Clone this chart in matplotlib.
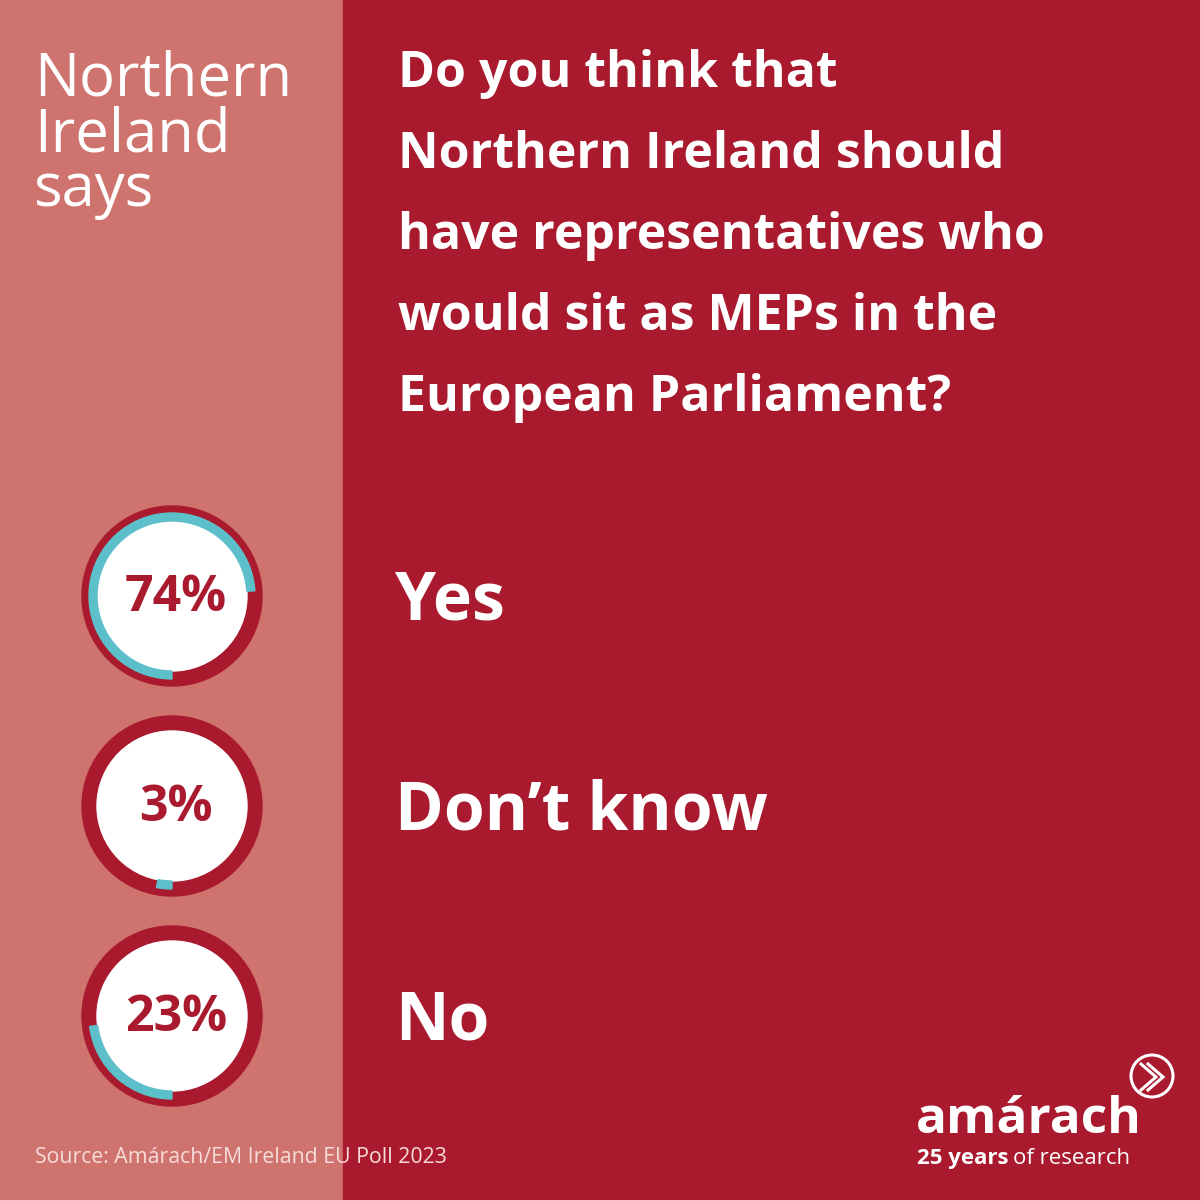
import matplotlib
matplotlib.use("Agg")
import matplotlib.pyplot as plt
from matplotlib.patches import Rectangle, Wedge, Circle

# poll answers, top to bottom
answers = ["Yes", "Don\u2019t know", "No"]
shares = [74, 3, 23]
pct_labels = ["74%", "3%", "23%"]

side_title = ["Northern", "Ireland", "says"]
question = ["Do you think that",
            "Northern Ireland should",
            "have representatives who",
            "would sit as MEPs in the",
            "European Parliament?"]
source = "Source: Am\u00e1rach/EM Ireland EU Poll 2023"

SALMON = "#CF736F"
DARKRED = "#AA1A2E"
CYAN = "#5CBFCA"
FONT = "Open Sans"

fig = plt.figure(figsize=(12, 12), dpi=100)
ax = fig.add_axes([0, 0, 1, 1])
ax.set_xlim(0, 1200)
ax.set_ylim(1200, 0)
ax.set_aspect("equal")
ax.axis("off")

# background panels
ax.add_patch(Rectangle((0, 0), 343, 1200, color=SALMON, zorder=0))
ax.add_patch(Rectangle((343, 0), 857, 1200, color=DARKRED, zorder=0))

# left heading
for i, line in enumerate(side_title):
    ax.text(34, 96 + i * 55, line, fontsize=43, color="white", family=FONT,
            ha="left", va="baseline")

# question
for i, line in enumerate(question):
    ax.text(398, 87 + i * 81, line, fontsize=36, color="white", family=FONT,
            fontweight="bold", ha="left", va="baseline")

# donuts and answers
cx = 172
centers = [596, 806, 1016]
for cy, share, lab, ans in zip(centers, shares, pct_labels, answers):
    ax.add_patch(Circle((cx, cy), 90, color=DARKRED, zorder=1))
    ax.add_patch(Circle((cx, cy), 75, color="white", zorder=2))
    # arc starts at 6 o'clock and runs clockwise (y axis is flipped)
    ax.add_patch(Wedge((cx, cy), 83, 90, 90 + 360 * share / 100, width=8,
                       color=CYAN, zorder=3))
    ax.text(cx + 4, cy + 2, lab, fontsize=36, color=DARKRED, family=FONT,
            fontweight="bold", ha="center", va="center", zorder=4)
    ax.text(395, cy + 24, ans, fontsize=47.5, color="white", family=FONT,
            fontweight="bold", ha="left", va="baseline")

# source
ax.text(35, 1163, source, fontsize=15.3, color="#F6DDDB", family=FONT,
        ha="left", va="baseline")

# logo
ax.text(916, 1133, "am\u00e1rach", fontsize=37, color="white", family=FONT,
        fontweight="bold", ha="left", va="baseline")
ax.text(917, 1164, "25 years", fontsize=16, color="white", family=FONT,
        fontweight="bold", ha="left", va="baseline")
ax.text(1013, 1164, "of research", fontsize=16, color="white", family=FONT,
        ha="left", va="baseline")
ax.add_patch(Circle((1152, 1076), 21, fill=False, ec="white", lw=2.2, zorder=5))
ax.plot([1141, 1156, 1141], [1064, 1077, 1090], color="white", lw=2.2,
        solid_joinstyle="miter", zorder=5)
ax.plot([1148, 1163, 1148], [1064, 1077, 1090], color="white", lw=2.2,
        solid_joinstyle="miter", zorder=5)

fig.savefig("out.png", dpi=100)
